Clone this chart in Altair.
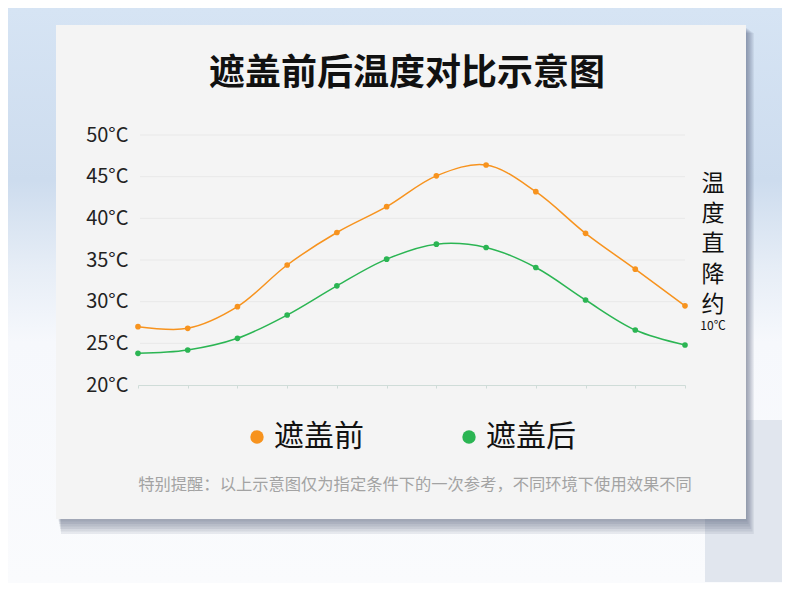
import altair as alt
import pandas as pd

# ---------------- data ----------------
SLOTS = [f"T{i}" for i in range(1, 13)]
BEFORE = [27.0, 26.8, 29.4, 34.4, 38.3, 41.4, 45.1, 46.4, 43.2, 38.2, 33.9, 29.5]
AFTER = [23.8, 24.2, 25.6, 28.4, 31.9, 35.1, 36.9, 36.5, 34.1, 30.2, 26.6, 24.8]
SERIES = ["遮盖前", "遮盖后"]
COLORS = ["#f7931e", "#2bb553"]
Y_TICKS = [20, 25, 30, 35, 40, 45, 50]
GRID_VALUES = [25, 30, 35, 40, 45, 50]
TITLE = "遮盖前后温度对比示意图"
SIDE_NOTE = ["温", "度", "直", "降", "约"]
SIDE_SUB = "10℃"
FOOTNOTE = "特别提醒：以上示意图仅为指定条件下的一次参考，不同环境下使用效果不同"

FONT = "Noto Sans CJK SC"
W, H = 547, 250
PAD = {"left": 130, "top": 127, "right": 97, "bottom": 198}

df = pd.concat([
    pd.DataFrame({"slot": SLOTS, "temp": BEFORE, "series": SERIES[0]}),
    pd.DataFrame({"slot": SLOTS, "temp": AFTER, "series": SERIES[1]}),
])
grid_df = pd.DataFrame({"temp": GRID_VALUES})
one = pd.DataFrame({"k": [0]})

# ---------------- decoration ----------------
bg = alt.Chart(one).mark_rect(
    color=alt.Gradient(
        gradient="linear", x1=0, x2=0, y1=0, y2=1,
        stops=[
            alt.GradientStop(offset=0.0, color="#d6e4f4"),
            alt.GradientStop(offset=0.3, color="#cddcee"),
            alt.GradientStop(offset=0.45, color="#e6edf6"),
            alt.GradientStop(offset=0.58, color="#f6f8fc"),
            alt.GradientStop(offset=1.0, color="#fafbfd"),
        ],
    )
).encode(x=alt.value(-130), x2=alt.value(644), y=alt.value(-127), y2=alt.value(448))

bg_right = alt.Chart(one).mark_rect(color="#e1e6ee").encode(
    x=alt.value(567), x2=alt.value(644), y=alt.value(285), y2=alt.value(447)
)

shadows = []
for i in range(1, 7):
    shadows.append(
        alt.Chart(one).mark_rect(color="#43536c", opacity=0.1).encode(
            x=alt.value(-80 + i * 0.5), x2=alt.value(608 + 1.3 * i),
            y=alt.value(-108 + i), y2=alt.value(384 + 2.5 * i)
        )
    )

card = alt.Chart(one).mark_rect(color="#f4f4f4").encode(
    x=alt.value(-82), x2=alt.value(608), y=alt.value(-110), y2=alt.value(384)
)

y_scale = alt.Scale(domain=[20, 50], nice=False, zero=False)
y_axis = alt.Axis(values=Y_TICKS, labelExpr="datum.value + '°C'", labelFontSize=20,
                  labelColor="#222222", labelFont=FONT, domain=False, ticks=False,
                  grid=False, labelPadding=10, title=None, zindex=1, labelOverlap=False)

grid = alt.Chart(grid_df).mark_rule(color="#e8e8e8", strokeWidth=1).encode(
    y=alt.Y("temp:Q", scale=y_scale, axis=y_axis),
    x=alt.value(2), x2=alt.value(W),
)

x_enc = alt.X(
    "slot:N", sort=SLOTS, scale=alt.Scale(type="point", padding=0),
    axis=alt.Axis(labels=False, title=None, domainColor="#cfdcd8", tickColor="#cfdcd8",
                  tickSize=3, grid=False, zindex=1),
)
y_enc = alt.Y("temp:Q", scale=y_scale, axis=y_axis)

line_layers = []
for name, col in zip(SERIES, COLORS):
    line_layers.append(
        alt.Chart(df).transform_filter(alt.datum.series == name)
        .mark_line(interpolate="catmull-rom", strokeWidth=1.5, color=col)
        .encode(x=x_enc, y=y_enc)
    )

points = alt.Chart(df).mark_circle(size=32, opacity=1).encode(
    x=x_enc, y=y_enc,
    color=alt.Color(
        "series:N", scale=alt.Scale(domain=SERIES, range=COLORS),
        legend=alt.Legend(
            title=None, orient="none", legendX=104, legendY=287, direction="horizontal",
            symbolType="circle", symbolSize=180, symbolStrokeWidth=0, symbolOpacity=1,
            labelFontSize=30, labelFont=FONT, labelColor="#111111", labelOffset=2,
            columnPadding=90, padding=0, zindex=1,
        ),
    ),
)

title = alt.Chart(one).mark_text(
    text=TITLE, font=FONT, fontSize=36, fontWeight="bold", color="#111111",
    align="center", baseline="middle",
).encode(x=alt.value(269), y=alt.value(-61))

side = alt.Chart(one).mark_text(
    text=SIDE_NOTE, font=FONT, fontSize=23, lineHeight=30.2, color="#111111",
    align="center", baseline="middle",
).encode(x=alt.value(575), y=alt.value(49))

side_sub = alt.Chart(one).mark_text(
    text=SIDE_SUB, font=FONT, fontSize=12, color="#111111", align="center", baseline="middle",
).encode(x=alt.value(575), y=alt.value(191))

foot = alt.Chart(one).mark_text(
    text=FOOTNOTE, font=FONT, fontSize=16.3, color="#a3a3a3", align="center", baseline="middle",
).encode(x=alt.value(277), y=alt.value(350))

chart = alt.layer(
    bg, bg_right, *shadows, card, grid, *line_layers, points, title, side, side_sub, foot
).properties(
    width=W, height=H,
    padding=PAD,
    autosize=alt.AutoSizeParams(type="none"),
).configure_view(stroke=None).configure(background="#f6f8fc")

chart.save("out.html", embed_options={"renderer": "svg", "actions": False})
